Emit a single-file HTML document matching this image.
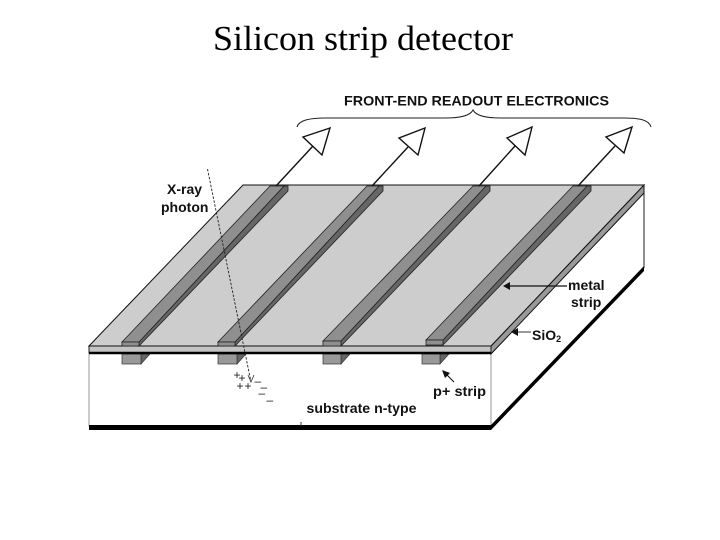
<!DOCTYPE html>
<html>
<head>
<meta charset="utf-8">
<style>
html,body{margin:0;padding:0;background:#fff;width:720px;height:540px;overflow:hidden}
svg{display:block}
.l{font-family:"Liberation Sans",sans-serif;font-weight:bold;font-size:14px;fill:#111}
</style>
</head>
<body>
<svg width="720" height="540" viewBox="0 0 720 540" xmlns="http://www.w3.org/2000/svg">
<text x="213" y="50" font-family="'Liberation Serif',serif" font-size="35" textLength="300" lengthAdjust="spacingAndGlyphs" fill="#000">Silicon strip detector</text>

<g style="filter:blur(.35px)">
<!-- body -->
<polygon points="89,354 491,354 491,427 89,427" fill="#fff"/>
<polygon points="491,354 644,194 644,268 491,427" fill="#fff"/>
<line x1="491" y1="354" x2="491" y2="426" stroke="#999" stroke-width="1"/>
<line x1="89" y1="354" x2="89" y2="426" stroke="#999" stroke-width="1"/>
<line x1="644" y1="190" x2="644" y2="268" stroke="#222" stroke-width="1"/>
<rect x="89" y="425" width="402" height="5" fill="#000"/>
<polygon points="491,425 644,266 644,271 491,430" fill="#000"/>
<line x1="301" y1="422" x2="301" y2="426" stroke="#333" stroke-width="1"/>

<!-- p+ strips -->
<g stroke="#333" stroke-width=".7">
<polygon points="141,354 150,354 141,364" fill="#666"/>
<rect x="122" y="354" width="19" height="10" fill="#999"/>
<polygon points="237,354 246,354 237,364" fill="#666"/>
<rect x="218" y="354" width="19" height="10" fill="#999"/>
<polygon points="341,354 350,354 341,364" fill="#666"/>
<rect x="323" y="354" width="18" height="10" fill="#999"/>
<polygon points="440,354 449,354 440,364" fill="#666"/>
<rect x="422" y="354" width="18" height="10" fill="#999"/>
</g>

<!-- oxide -->
<polygon points="491,346 644,185 644,193 491,354" fill="#999" stroke="#111" stroke-width="1"/>
<rect x="89" y="346" width="402" height="7" fill="#c4c4c4" stroke="#222" stroke-width="1"/>
<line x1="89" y1="353" x2="491" y2="353" stroke="#000" stroke-width="2.5"/>
<!-- top -->
<polygon points="89,346 243,185 644,185 491,346" fill="#cdcdcd" stroke="#111" stroke-width="1"/>

<!-- metal strips -->
<g stroke="#222" stroke-width=".8">
<polygon points="139,342 139,346 288,191 288,186 284,186" fill="#666"/>
<polygon points="122,342 270,186 284,186 139,342" fill="#8f8f8f"/>
<rect x="122" y="342" width="17" height="4" fill="#8f8f8f"/>

<polygon points="235,342 235,346 383,191 383,186 379,186" fill="#666"/>
<polygon points="218,342 367,186 379,186 235,342" fill="#8f8f8f"/>
<rect x="218" y="342" width="17" height="4" fill="#8f8f8f"/>

<polygon points="341,341 341,346 490,191 490,186 486,186" fill="#666"/>
<polygon points="323,341 473,186 486,186 341,341" fill="#8f8f8f"/>
<rect x="323" y="341" width="18" height="5" fill="#8f8f8f"/>

<polygon points="443,340 443,345 591,191 591,186 587,186" fill="#666"/>
<polygon points="426,340 573,186 587,186 443,340" fill="#8f8f8f"/>
<rect x="426" y="340" width="17" height="5" fill="#8f8f8f"/>
</g>

<!-- arrows -->
<g fill="none" stroke="#111" stroke-width="1.4">
<line x1="313" y1="146" x2="276" y2="186"/>
<polygon points="330,128 303,137 322,155" fill="#fff"/>
<line x1="408" y1="147" x2="372" y2="186"/>
<polygon points="425,128 399,138 418,155" fill="#fff"/>
<line x1="515" y1="146" x2="479" y2="186"/>
<polygon points="532,127 507,138 525,155" fill="#fff"/>
<line x1="615" y1="146" x2="578" y2="186"/>
<polygon points="632,127 606,137 624,153" fill="#fff"/>
</g>

<!-- brace -->
<path d="M297,127 C299,120 310,118 326,118 L445,118 C460,118 470,116 473,110 C476,116 486,118 501,118 L624,118 C640,118 649,120 651,127" fill="none" stroke="#222" stroke-width="1"/>

<!-- photon -->
<line x1="207.500" y1="169" x2="251" y2="382" stroke="#222" stroke-width=".9" stroke-dasharray="2.5,1.5"/>
<path d="M248,375 L251,382 L254,375" fill="none" stroke="#333" stroke-width=".8"/>

<!-- pointers -->
<line x1="567" y1="286" x2="506" y2="286" stroke="#111" stroke-width="1.2"/>
<polygon points="503,286 510,282 510,290" fill="#111"/>
<line x1="531" y1="332" x2="516" y2="332" stroke="#333" stroke-width="1"/>
<polygon points="511,332 518,328 518,336" fill="#111"/>
<line x1="454" y1="382" x2="445" y2="373" stroke="#111" stroke-width="1.1"/>
<polygon points="442,370 450,373 445,378" fill="#111"/>
</g>

<!-- labels -->
<g style="filter:blur(.3px)">
<text class="l" x="344" y="105.500" textLength="265" lengthAdjust="spacingAndGlyphs">FRONT-END READOUT ELECTRONICS</text>
<text class="l" x="167" y="194">X-ray</text>
<text class="l" x="161" y="212">photon</text>
<text class="l" x="568" y="290">metal</text>
<text class="l" x="571" y="307">strip</text>
<text class="l" x="532" y="340">SiO<tspan font-size="9" dy="2">2</tspan></text>
<text class="l" x="433" y="396" textLength="53" lengthAdjust="spacingAndGlyphs">p+ strip</text>
<text class="l" x="306.500" y="413" textLength="110" lengthAdjust="spacingAndGlyphs">substrate n-type</text>

<g font-family="'Liberation Sans',sans-serif" font-size="12" fill="#222">
<text x="233.500" y="379">+</text>
<text x="238.500" y="382">+</text>
<text x="236.500" y="390">+</text>
<text x="244.500" y="390">+</text>
<text x="254.500" y="385">–</text>
<text x="260.500" y="391">–</text>
<text x="258.500" y="397">–</text>
<text x="266.500" y="404">–</text>
</g>
</g>
</svg>
</body>
</html>
